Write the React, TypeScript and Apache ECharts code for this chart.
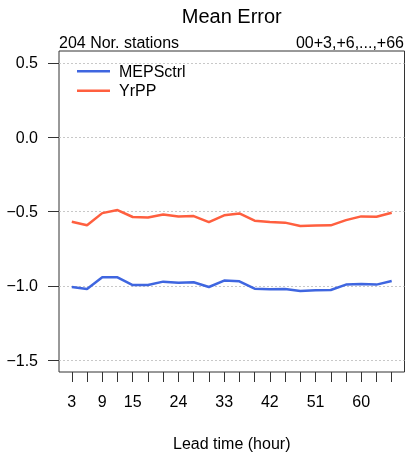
import React, { useEffect, useRef } from "react";
import * as echarts from "echarts";

const leadTimes = [3, 6, 9, 12, 15, 18, 21, 24, 27, 30, 33, 36, 39, 42, 45, 48, 51, 54, 57, 60, 63, 66];
const mepsCtrl = [-1.008, -1.021, -0.943, -0.943, -0.995, -0.995, -0.972, -0.979, -0.976, -1.008, -0.965, -0.970, -1.019, -1.023, -1.021, -1.035, -1.030, -1.028, -0.992, -0.988, -0.992, -0.968];
const yrPP = [-0.569, -0.593, -0.511, -0.490, -0.537, -0.540, -0.520, -0.533, -0.531, -0.571, -0.526, -0.513, -0.562, -0.571, -0.575, -0.598, -0.595, -0.593, -0.558, -0.533, -0.535, -0.508];
const xTickValues = [3, 6, 9, 12, 15, 18, 21, 24, 27, 30, 33, 36, 39, 42, 45, 48, 51, 54, 57, 60, 63, 66];
const xLabelValues = [3, 9, 15, 24, 33, 42, 51, 60];
const yTickValues = [-1.5, -1.0, -0.5, 0.0, 0.5];
const seriesNames = ["MEPSctrl", "YrPP"];
const seriesColors = ["#3F66E0", "#FF5F3F"];

const FONT = "Liberation Sans, Arial, Helvetica, sans-serif";

export default function App() {
  const ref = useRef<HTMLDivElement>(null);
  useEffect(() => {
    if (!ref.current) return;
    const chart = echarts.init(ref.current, null, { renderer: "svg" });
    const gridLeft = 59;
    const gridTop = 51;
    const gridW = 345.5;
    const gridH = 321;
    chart.setOption({
      animation: false,
      textStyle: { fontFamily: FONT },
      grid: {
        left: gridLeft,
        top: gridTop,
        width: gridW,
        height: gridH,
        show: true,
        borderColor: "#333",
        borderWidth: 1,
        backgroundColor: "transparent",
      },
      legend: {
        orient: "vertical",
        left: 72,
        top: 56.5,
        itemWidth: 33,
        itemHeight: 2.5,
        itemGap: 0,
        icon: "rect",
        data: seriesNames,
        textStyle: {
          fontFamily: FONT,
          fontSize: 16,
          color: "#000",
          lineHeight: 19.5,
          padding: [0, 0, 0, 4],
        },
      },
      xAxis: {
        type: "value",
        position: "bottom",
        min: 0.48,
        max: 68.52,
        axisLine: { show: false, onZero: false },
        splitLine: { show: false },
        axisTick: {
          show: true,
          customValues: xTickValues,
          length: 10,
          lineStyle: { color: "#333", width: 1 },
        },
        axisLabel: {
          customValues: xLabelValues,
          margin: 21,
          fontSize: 16,
          color: "#000",
          fontFamily: FONT,
        },
      },
      yAxis: {
        type: "value",
        position: "left",
        min: -1.58,
        max: 0.58,
        axisLine: { show: false, onZero: false },
        splitLine: { show: false },
        axisTick: {
          show: true,
          customValues: yTickValues,
          length: 11,
          lineStyle: { color: "#333", width: 1 },
        },
        axisLabel: {
          customValues: yTickValues,
          margin: 21,
          fontSize: 16,
          color: "#000",
          fontFamily: FONT,
          formatter: (v: number) => v.toFixed(1).replace("-", "\u2212"),
        },
      },
      graphic: [
        {
          type: "text",
          x: gridLeft + gridW / 2,
          y: 16,
          style: {
            text: "Mean Error",
            fontSize: 20,
            fontFamily: FONT,
            fill: "#000",
            textAlign: "center",
            textVerticalAlign: "middle",
          },
        },
        {
          type: "text",
          x: 59,
          y: 42,
          style: {
            text: "204 Nor. stations",
            fontSize: 16,
            fontFamily: FONT,
            fill: "#000",
            textAlign: "left",
            textVerticalAlign: "middle",
          },
        },
        {
          type: "text",
          x: 404,
          y: 42,
          style: {
            text: "00+3,+6,...,+66",
            fontSize: 16,
            fontFamily: FONT,
            fill: "#000",
            textAlign: "right",
            textVerticalAlign: "middle",
          },
        },
        {
          type: "text",
          x: gridLeft + gridW / 2,
          y: 443,
          style: {
            text: "Lead time (hour)",
            fontSize: 16,
            fontFamily: FONT,
            fill: "#000",
            textAlign: "center",
            textVerticalAlign: "middle",
          },
        },
      ],
      series: [
        {
          name: seriesNames[0],
          type: "line",
          data: leadTimes.map((t, i) => [t, mepsCtrl[i]]),
          showSymbol: false,
          symbol: "none",
          color: seriesColors[0],
          lineStyle: { width: 2.5, color: seriesColors[0] },
          z: 3,
          markLine: {
            silent: true,
            symbol: ["none", "none"],
            label: { show: false },
            lineStyle: { type: [2, 2], color: "#c8c8c8", width: 1 },
            data: yTickValues.map((v) => ({ yAxis: v })),
            z: 1,
          },
        },
        {
          name: seriesNames[1],
          type: "line",
          data: leadTimes.map((t, i) => [t, yrPP[i]]),
          showSymbol: false,
          symbol: "none",
          color: seriesColors[1],
          lineStyle: { width: 2.5, color: seriesColors[1] },
          z: 3,
        },
      ],
    });
    return () => chart.dispose();
  }, []);
  return (
    <div
      ref={ref}
      style={{ position: "fixed", left: 0, top: 0, width: 405, height: 459 }}
    />
  );
}
